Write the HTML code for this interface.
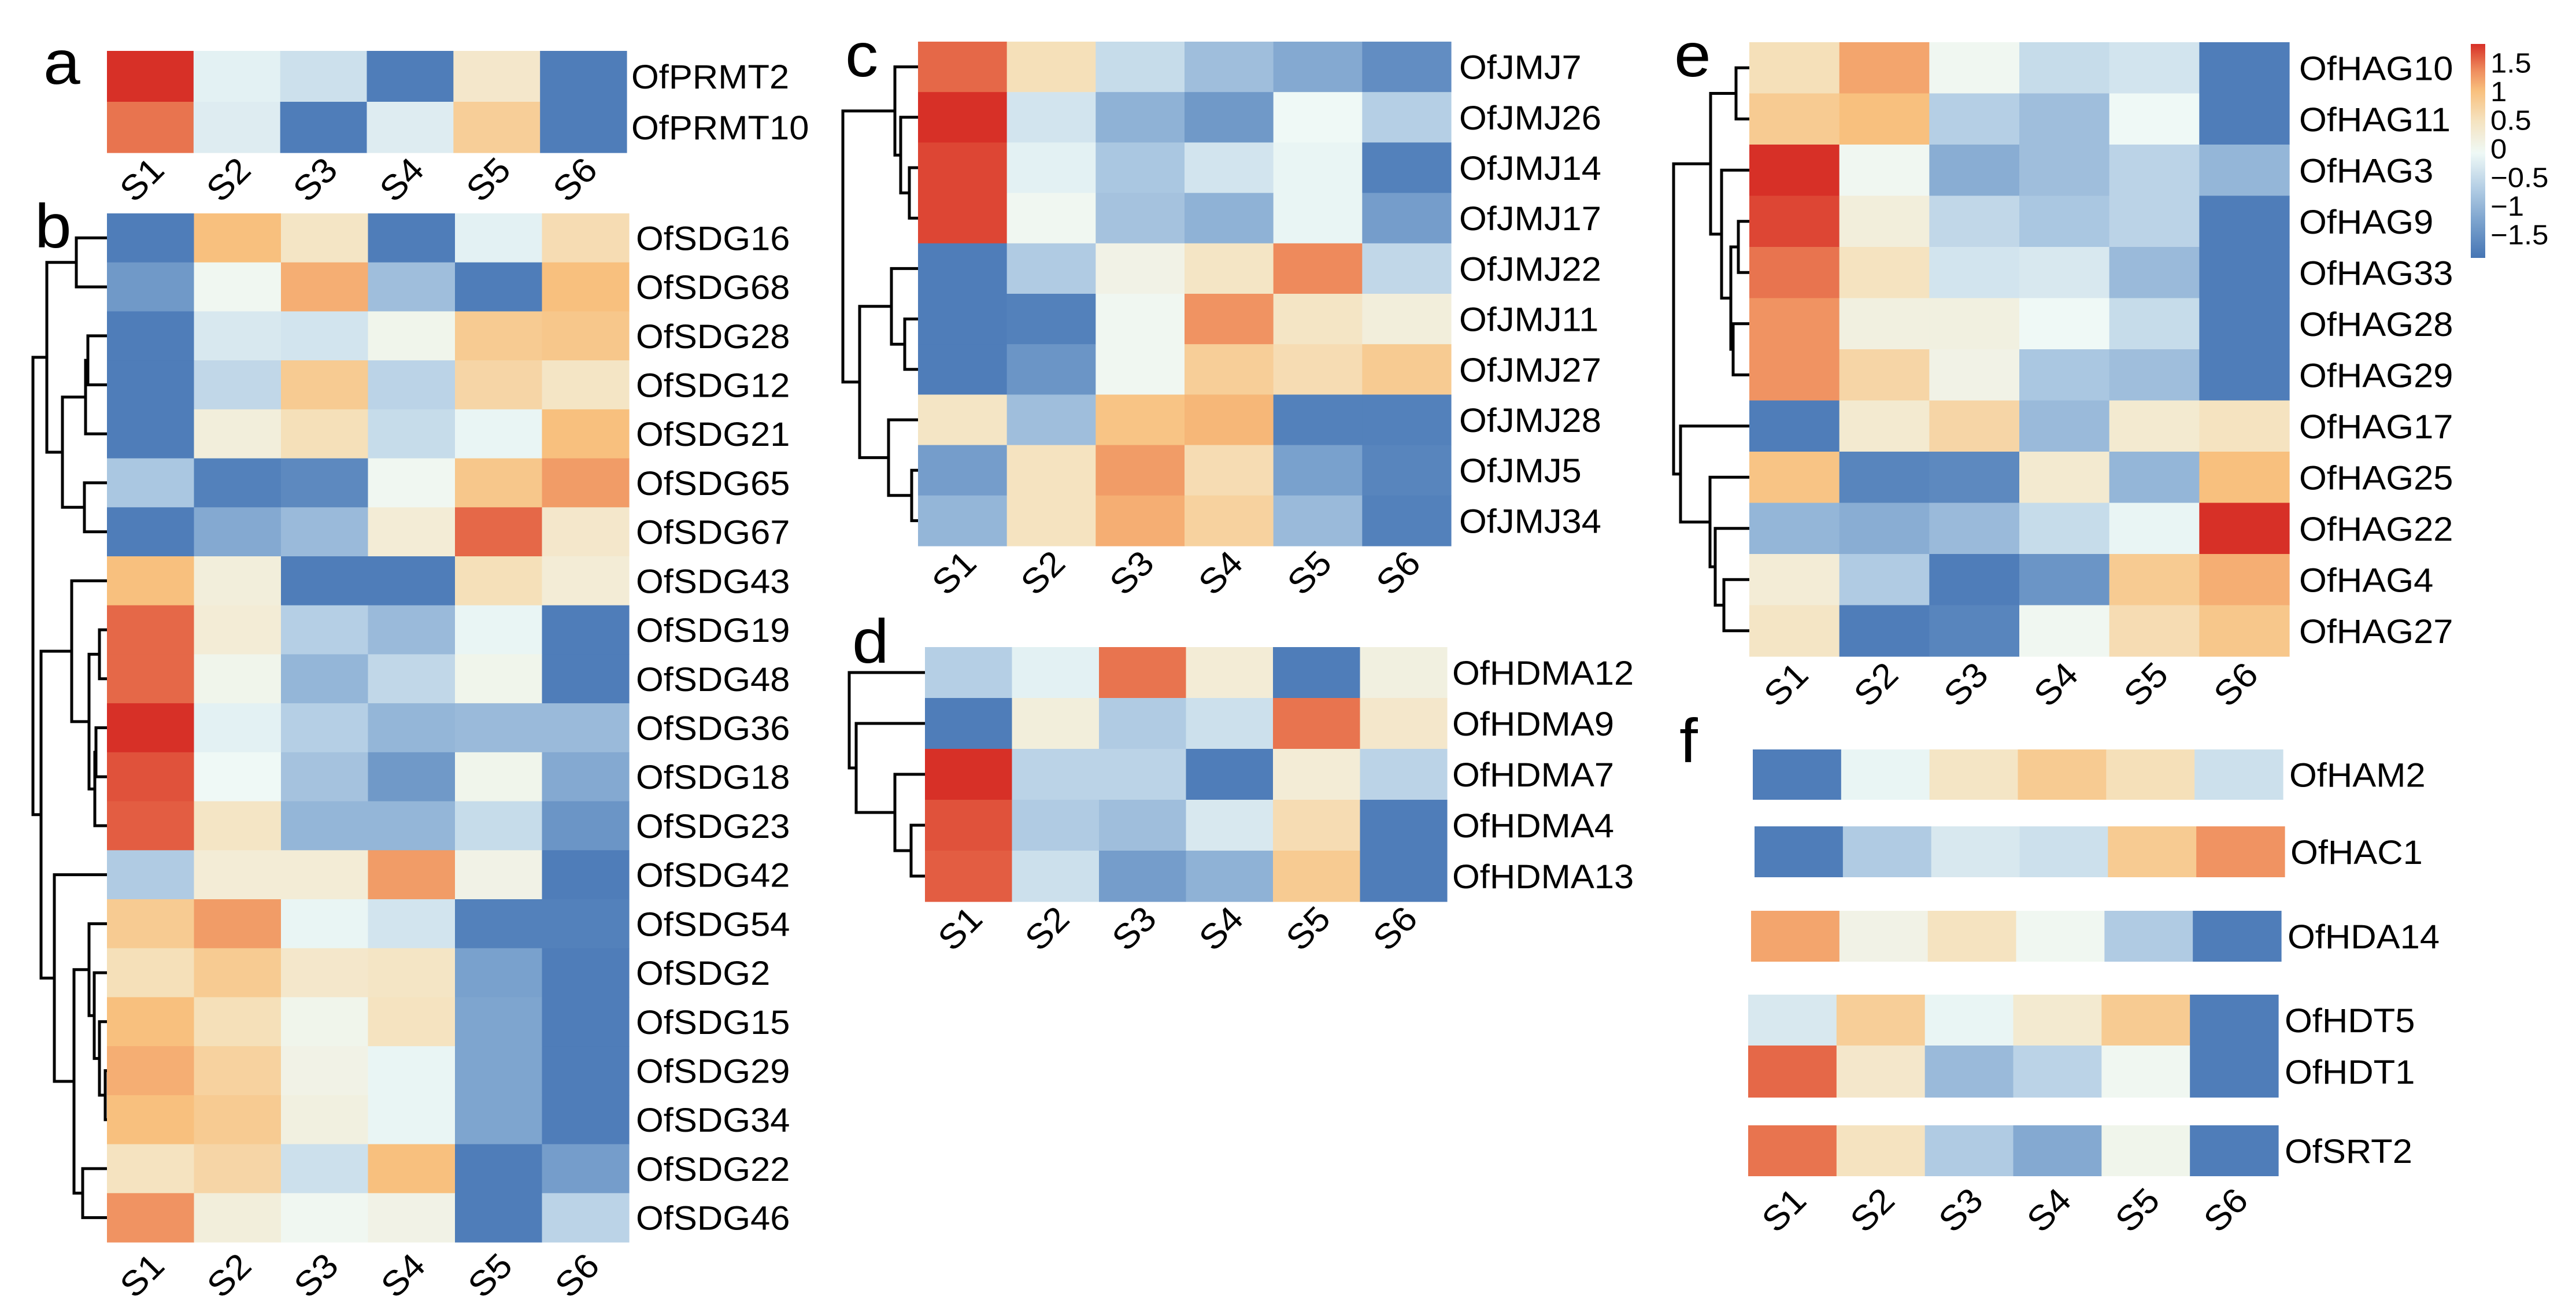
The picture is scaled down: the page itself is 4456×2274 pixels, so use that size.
<!DOCTYPE html>
<html><head><meta charset="utf-8">
<style>
html,body{margin:0;padding:0;background:#fff;}
svg{display:block;}
text{font-family:"Liberation Sans",Arial,sans-serif;fill:#000;}
</style></head>
<body>
<svg id="fig" width="4456" height="2274" viewBox="0 0 4456 2274" xmlns="http://www.w3.org/2000/svg">
<defs>
<linearGradient id="cbar" x1="0" y1="1" x2="0" y2="0">
<stop offset="0" stop-color="#4575b4"/>
<stop offset="0.18" stop-color="#7ea5cf"/>
<stop offset="0.33" stop-color="#b5cfe5"/>
<stop offset="0.49" stop-color="#eff9f6"/>
<stop offset="0.64" stop-color="#f5e3c0"/>
<stop offset="0.78" stop-color="#f8c07e"/>
<stop offset="0.88" stop-color="#ee8a5c"/>
<stop offset="1" stop-color="#d73027"/>
</linearGradient>
</defs>
<g id="root"></g>
</svg>
<script>
const samples = ["S1","S2","S3","S4","S5","S6"];
const colorTicks = [1.5,1,0.5,0,-0.5,-1,-1.5];
const colorTickLabels = ["1.5","1","0.5","0","\u22120.5","\u22121","\u22121.5"];

const genesA = ["OfPRMT2","OfPRMT10"];
const valuesA = [
 [1.7,-0.1,-0.3,-1.5,0.4,-1.5],
 [1.4,-0.15,-1.5,-0.15,0.8,-1.5]];

const genesB = ["OfSDG16","OfSDG68","OfSDG28","OfSDG12","OfSDG21","OfSDG65","OfSDG67","OfSDG43","OfSDG19","OfSDG48","OfSDG36","OfSDG18","OfSDG23","OfSDG42","OfSDG54","OfSDG2","OfSDG15","OfSDG29","OfSDG34","OfSDG22","OfSDG46"];
const valuesB = [
 [-1.5,1.0,0.45,-1.5,-0.1,0.6],
 [-1.15,0.05,1.1,-0.7,-1.5,1.0],
 [-1.5,-0.2,-0.25,0.1,0.85,0.9],
 [-1.5,-0.4,0.85,-0.45,0.7,0.45],
 [-1.5,0.25,0.55,-0.35,-0.05,1.0],
 [-0.6,-1.45,-1.35,0.05,0.9,1.2],
 [-1.5,-0.95,-0.75,0.3,1.45,0.4],
 [1.0,0.25,-1.5,-1.5,0.55,0.3],
 [1.45,0.3,-0.5,-0.75,-0.05,-1.5],
 [1.45,0.1,-0.8,-0.4,0.1,-1.5],
 [1.7,-0.1,-0.5,-0.8,-0.75,-0.75],
 [1.55,0.0,-0.65,-1.15,0.1,-0.95],
 [1.5,0.45,-0.8,-0.8,-0.35,-1.2],
 [-0.55,0.3,0.3,1.2,0.15,-1.5],
 [0.85,1.2,-0.05,-0.25,-1.45,-1.45],
 [0.55,0.85,0.4,0.45,-1.05,-1.5],
 [1.0,0.55,0.1,0.5,-1.0,-1.5],
 [1.1,0.75,0.15,-0.05,-1.0,-1.5],
 [1.0,0.85,0.2,-0.05,-1.0,-1.5],
 [0.5,0.7,-0.3,1.0,-1.5,-1.1],
 [1.25,0.25,0.05,0.15,-1.5,-0.45]];

const genesC = ["OfJMJ7","OfJMJ26","OfJMJ14","OfJMJ17","OfJMJ22","OfJMJ11","OfJMJ27","OfJMJ28","OfJMJ5","OfJMJ34"];
const valuesC = [
 [1.45,0.55,-0.35,-0.7,-0.95,-1.3],
 [1.7,-0.25,-0.85,-1.15,0.0,-0.5],
 [1.6,-0.1,-0.6,-0.25,-0.05,-1.45],
 [1.6,0.05,-0.65,-0.85,-0.05,-1.1],
 [-1.5,-0.55,0.15,0.45,1.3,-0.4],
 [-1.5,-1.45,0.05,1.25,0.45,0.25],
 [-1.5,-1.2,0.05,0.8,0.6,0.85],
 [0.45,-0.7,0.95,1.05,-1.45,-1.45],
 [-1.1,0.5,1.2,0.6,-1.05,-1.4],
 [-0.8,0.5,1.1,0.75,-0.75,-1.45]];

const genesD = ["OfHDMA12","OfHDMA9","OfHDMA7","OfHDMA4","OfHDMA13"];
const valuesD = [
 [-0.5,-0.1,1.4,0.3,-1.5,0.2],
 [-1.5,0.25,-0.55,-0.3,1.4,0.4],
 [1.7,-0.45,-0.45,-1.5,0.3,-0.45],
 [1.55,-0.55,-0.7,-0.2,0.6,-1.5],
 [1.5,-0.3,-1.1,-0.85,0.85,-1.5]];

const genesE = ["OfHAG10","OfHAG11","OfHAG3","OfHAG9","OfHAG33","OfHAG28","OfHAG29","OfHAG17","OfHAG25","OfHAG22","OfHAG4","OfHAG27"];
const valuesE = [
 [0.55,1.15,0.05,-0.35,-0.25,-1.5],
 [0.85,1.0,-0.5,-0.7,0.0,-1.5],
 [1.7,0.05,-0.9,-0.7,-0.45,-0.8],
 [1.6,0.25,-0.4,-0.6,-0.45,-1.5],
 [1.4,0.5,-0.25,-0.2,-0.75,-1.5],
 [1.25,0.2,0.2,0.0,-0.35,-1.5],
 [1.25,0.7,0.15,-0.6,-0.7,-1.5],
 [-1.5,0.35,0.7,-0.75,0.35,0.5],
 [0.95,-1.4,-1.35,0.35,-0.8,1.0],
 [-0.8,-0.9,-0.75,-0.35,-0.05,1.7],
 [0.3,-0.55,-1.5,-1.2,0.85,1.1],
 [0.45,-1.5,-1.4,0.05,0.6,0.9]];

const genesF = ["OfHAM2","OfHAC1","OfHDA14","OfHDT5","OfHDT1","OfSRT2"];
const valuesF = [
 [-1.5,-0.05,0.45,0.85,0.55,-0.3],
 [-1.5,-0.55,-0.2,-0.3,0.85,1.25],
 [1.15,0.15,0.5,0.05,-0.55,-1.5],
 [-0.2,0.8,-0.05,0.35,0.85,-1.5],
 [1.45,0.4,-0.75,-0.45,0.05,-1.5],
 [1.4,0.5,-0.55,-0.95,0.1,-1.5]];

const stops=[[-1.6,[69,117,180]],[-1.0,[126,165,207]],[-0.5,[181,207,229]],[0,[239,249,246]],[0.5,[245,227,192]],[1.0,[248,192,126]],[1.3,[238,138,92]],[1.7,[215,48,39]]];
function color(v){
  if(v<=stops[0][0]) return 'rgb('+stops[0][1].join(',')+')';
  for(let i=1;i<stops.length;i++){
    if(v<=stops[i][0]){
      const t=(v-stops[i-1][0])/(stops[i][0]-stops[i-1][0]);
      const a=stops[i-1][1],b=stops[i][1];
      return 'rgb('+a.map((c,k)=>Math.round(c+(b[k]-c)*t)).join(',')+')';
    }
  }
  return 'rgb('+stops[stops.length-1][1].join(',')+')';
}
const NS="http://www.w3.org/2000/svg";
const root=document.getElementById('root');
function mk(tag,attrs,parent){const e=document.createElementNS(NS,tag);for(const k in attrs)e.setAttribute(k,attrs[k]);(parent||root).appendChild(e);return e;}
const SX=1.06, FS=58;

function label(txt,x,y,size,name){
  const t=mk('text',{transform:`translate(${x},${y}) scale(${SX},1)`,'font-size':size});
  t.textContent=txt;
  
  
  return t;
}
function ticks(x0,x1,cy,panel){
  const w=(x1-x0)/samples.length;
  samples.forEach((s,i)=>{
    const cx=x0+w*(i+0.5);
    const t=mk('text',{transform:`translate(${cx},${cy+20}) rotate(-45) scale(${SX},1)`,'font-size':60,'text-anchor':'middle'});
    t.textContent=s;
    
    
  });
}
function heat(panel,genes,vals,x0,x1,y0,y1,labelX,tickY){
  const g=mk('g',{});
  
  
  const w=(x1-x0)/samples.length,h=(y1-y0)/genes.length;
  vals.forEach((row,r)=>row.forEach((v,c)=>{
    const rc=mk('rect',{x:x0+c*w,y:y0+r*h,width:w+0.6,height:h+0.6,fill:color(v)},g);
    
    
  }));
  genes.forEach((gn,r)=>label(gn,labelX,y0+h*(r+0.5)+21,FS,'row-label-'+gn.toLowerCase()));
  if(tickY) ticks(x0,x1,tickY,panel);
  return {x0,y0,h};
}
function dendro(panel,info,n,merges){
  const g=mk('g',{fill:'none',stroke:'#000','stroke-width':5});
  
  
  const nodes=[];
  for(let i=0;i<n;i++) nodes.push({x:info.x0,y:info.y0+info.h*(i+0.5)});
  merges.forEach(([a,b,x])=>{
    const A=nodes[a],B=nodes[b];
    mk('path',{d:`M${A.x},${A.y}H${x}V${B.y}H${B.x}`},g);
    nodes.push({x:x,y:(A.y+B.y)/2});
  });
}

[["a",75,145],["b",60,428],["c",1462,132],["d",1474,1146],["e",2896,132],["f",2905,1318]].forEach(([l,x,y])=>label(l,x,y,108,'panel-letter-'+l));

heat('a',genesA,valuesA,185,1084,88,264,1092,305);
const ib=heat('b',genesB,valuesB,185,1088,369,2148,1100,2200);
dendro('b',ib,21,[[2,3,152],[21,4,148],[5,6,146],[22,23,108],[0,1,132],[25,24,81],
 [8,9,172],[10,11,166],[28,12,164],[27,29,154],[7,30,124],
 [17,18,182],[16,32,172],[15,33,163],[14,34,154],[19,20,143],[35,36,128],[13,37,94],
 [31,38,71],[26,39,57]]);
const ic=heat('c',genesC,valuesC,1588,2510,72,944,2524,985);
dendro('c',ic,10,[[2,3,1573],[1,10,1558],[0,11,1548],[5,6,1565],[4,13,1542],[8,9,1577],[7,15,1537],[14,16,1487],[12,17,1458]]);
const id=heat('d',genesD,valuesD,1600,2503,1119,1559,2512,1600);
dendro('d',id,5,[[3,4,1576],[2,5,1548],[1,6,1481],[0,7,1469]]);
const ie=heat('e',genesE,valuesE,3026,3960,73,1135,3977,1178);
dendro('e',ie,12,[[0,1,3003],[3,4,3007],[5,6,2998],[13,14,2994],[2,15,2978],[12,16,2959],
 [10,11,2982],[9,18,2967],[8,19,2958],[7,20,2907],[17,21,2895]]);
const fRows=[[3032,1296,1383,3960],[3035,1429,1517,3962],[3029,1575,1663,3957],[3024,1720,1808,3952],[3024,1808,1898,3952],[3024,1946,2034,3952]];
const gf=mk('g',{});


valuesF.forEach((row,r)=>{
  const [x0,y0,y1,lx]=fRows[r];const w=917/6;
  row.forEach((v,c)=>{
    const rc=mk('rect',{x:x0+c*w,y:y0,width:w+0.6,height:y1-y0,fill:color(v)},gf);
    
    
  });
  label(genesF[r],lx,(y0+y1)/2+21,FS,'row-label-'+genesF[r].toLowerCase());
});
ticks(3024,3941,2087,'f');

const cb=mk('rect',{x:4274,y:76,width:25,height:370,fill:'url(#cbar)'});


const cbY=v=>257-v*99;
colorTicks.forEach((v,i)=>label(colorTickLabels[i],4308,cbY(v)+17,48,'color-scale-label-'+i));
</script>
</body></html>
